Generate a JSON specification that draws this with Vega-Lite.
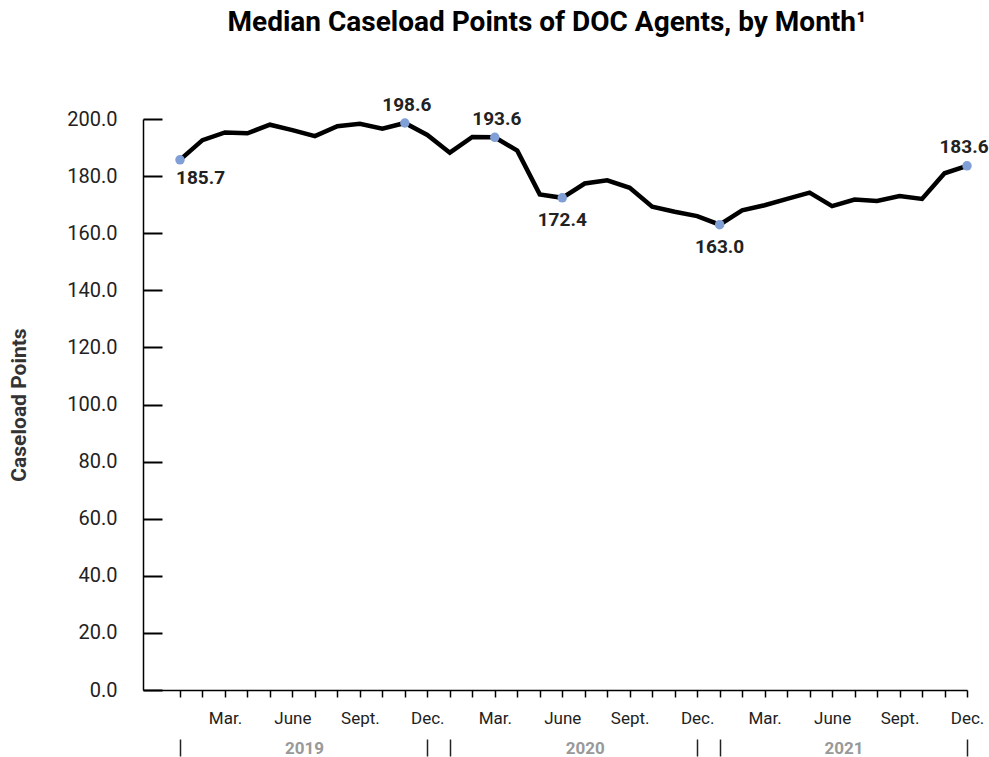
{
  "$schema": "https://vega.github.io/schema/vega-lite/v6.json",
  "width": 824,
  "height": 571,
  "autosize": {"type": "none"},
  "padding": {"left": 143, "top": 119, "right": 22, "bottom": 67},
  "background": "white",
  "title": {
    "text": "Median Caseload Points of DOC Agents, by Month¹",
    "font": "Roboto",
    "fontSize": 28,
    "fontWeight": "bold",
    "color": "#000000",
    "anchor": "middle",
    "frame": "group",
    "dx": -8,
    "offset": 59
  },
  "data": {
    "values": [
      {"month": "2019-01", "value": 185.7},
      {"month": "2019-02", "value": 192.6},
      {"month": "2019-03", "value": 195.3},
      {"month": "2019-04", "value": 195.0},
      {"month": "2019-05", "value": 198.0},
      {"month": "2019-06", "value": 196.1},
      {"month": "2019-07", "value": 194.0},
      {"month": "2019-08", "value": 197.5},
      {"month": "2019-09", "value": 198.3},
      {"month": "2019-10", "value": 196.6},
      {"month": "2019-11", "value": 198.6},
      {"month": "2019-12", "value": 194.4},
      {"month": "2020-01", "value": 188.2},
      {"month": "2020-02", "value": 193.7},
      {"month": "2020-03", "value": 193.6},
      {"month": "2020-04", "value": 188.9},
      {"month": "2020-05", "value": 173.6},
      {"month": "2020-06", "value": 172.4},
      {"month": "2020-07", "value": 177.4},
      {"month": "2020-08", "value": 178.5},
      {"month": "2020-09", "value": 175.9},
      {"month": "2020-10", "value": 169.3},
      {"month": "2020-11", "value": 167.5},
      {"month": "2020-12", "value": 166.0},
      {"month": "2021-01", "value": 163.0},
      {"month": "2021-02", "value": 168.0},
      {"month": "2021-03", "value": 169.8},
      {"month": "2021-04", "value": 172.0},
      {"month": "2021-05", "value": 174.2},
      {"month": "2021-06", "value": 169.5},
      {"month": "2021-07", "value": 171.8},
      {"month": "2021-08", "value": 171.3},
      {"month": "2021-09", "value": 173.0},
      {"month": "2021-10", "value": 172.0},
      {"month": "2021-11", "value": 181.0},
      {"month": "2021-12", "value": 183.6}
    ]
  },
  "encoding": {
    "y": {
      "field": "value",
      "type": "quantitative",
      "scale": {"domain": [0, 200], "nice": false, "zero": true},
      "axis": {
        "values": [0, 20, 40, 60, 80, 100, 120, 140, 160, 180, 200],
        "format": ".1f",
        "grid": false,
        "labelFont": "Roboto",
        "labelFontSize": 20,
        "labelColor": "#222222",
        "labelPadding": 45,
        "tickSize": -19,
        "tickWidth": 2,
        "tickColor": "#000000",
        "domainColor": "#000000",
        "domainWidth": 1.5,
        "title": "Caseload Points",
        "titleFont": "Roboto",
        "titleFontSize": 21,
        "titleFontWeight": "bold",
        "titleColor": "#333333",
        "titlePadding": 37
      }
    }
  },
  "layer": [
    {
      "mark": {"type": "line", "color": "#000000", "strokeWidth": 4.5},
      "encoding": {
        "x": {
          "field": "month",
          "type": "ordinal",
          "scale": {"type": "point", "padding": 0.8225, "align": 1},
          "axis": {
            "orient": "bottom",
            "title": null,
            "labelAngle": 0,
            "labelFont": "Roboto",
            "labelFontSize": 17,
            "labelColor": "#222222",
            "labelPadding": 13,
            "tickSize": 7,
            "tickWidth": 1.5,
            "tickColor": "#000000",
            "domainColor": "#000000",
            "domainWidth": 1.5,
            "labelExpr": "slice(datum.value,5)=='03'?'Mar.':slice(datum.value,5)=='06'?'June':slice(datum.value,5)=='09'?'Sept.':slice(datum.value,5)=='12'?'Dec.':''"
          }
        }
      }
    },
    {
      "transform": [{"filter": "indexof(['2019-01','2019-11','2020-03','2020-06','2021-01','2021-12'], datum.month) >= 0"}],
      "mark": {"type": "point", "filled": true, "shape": "circle", "size": 90, "color": "#7f9fd6", "opacity": 1},
      "encoding": {
        "x": {
          "field": "month",
          "type": "ordinal",
          "axis": {
            "orient": "bottom",
            "title": null,
            "values": ["2019-06", "2020-06", "2021-06"],
            "labelExpr": "slice(datum.value,0,4)",
            "labelAngle": 0,
            "labelFont": "Roboto",
            "labelFontSize": 17,
            "labelFontWeight": "bold",
            "labelColor": "#999999",
            "labelPadding": 50,
            "labelOffset": {"condition": {"test": "datum.value == '2020-06'", "value": 22.5}, "value": 11.5},
            "ticks": false,
            "domain": false
          }
        }
      }
    },
    {
      "transform": [{"filter": "indexof(['2019-11','2020-03'], datum.month) >= 0"}],
      "mark": {"type": "text", "font": "Roboto", "fontSize": 19, "fontWeight": "bold", "color": "#222222", "baseline": "middle", "align": "center", "dx": 2, "dy": -18},
      "encoding": {
        "x": {
          "field": "month",
          "type": "ordinal",
          "axis": {
            "orient": "bottom",
            "title": null,
            "values": ["2019-01", "2019-12", "2020-01", "2020-12", "2021-01", "2021-12"],
            "labels": false,
            "ticks": true,
            "tickSize": 17,
            "tickWidth": 1.5,
            "tickColor": "#222222",
            "offset": 49,
            "domain": false
          }
        },
        "text": {"field": "value", "type": "quantitative", "format": ".1f"}
      }
    },
    {
      "transform": [{"filter": "datum.month == '2021-12'"}],
      "mark": {"type": "text", "font": "Roboto", "fontSize": 19, "fontWeight": "bold", "color": "#222222", "baseline": "middle", "align": "center", "dx": -3, "dy": -19},
      "encoding": {
        "x": {"field": "month", "type": "ordinal", "axis": null},
        "text": {"field": "value", "type": "quantitative", "format": ".1f"}
      }
    },
    {
      "transform": [{"filter": "indexof(['2020-06','2021-01'], datum.month) >= 0"}],
      "mark": {"type": "text", "font": "Roboto", "fontSize": 19, "fontWeight": "bold", "color": "#222222", "baseline": "middle", "align": "center", "dy": 22},
      "encoding": {
        "x": {"field": "month", "type": "ordinal", "axis": null},
        "text": {"field": "value", "type": "quantitative", "format": ".1f"}
      }
    },
    {
      "transform": [{"filter": "datum.month == '2019-01'"}],
      "mark": {"type": "text", "font": "Roboto", "fontSize": 19, "fontWeight": "bold", "color": "#222222", "baseline": "middle", "align": "left", "dx": -4, "dy": 18},
      "encoding": {
        "x": {"field": "month", "type": "ordinal", "axis": null},
        "text": {"field": "value", "type": "quantitative", "format": ".1f"}
      }
    }
  ],
  "resolve": {"axis": {"x": "independent"}},
  "config": {
    "view": {"stroke": null},
    "font": "Roboto"
  }
}
